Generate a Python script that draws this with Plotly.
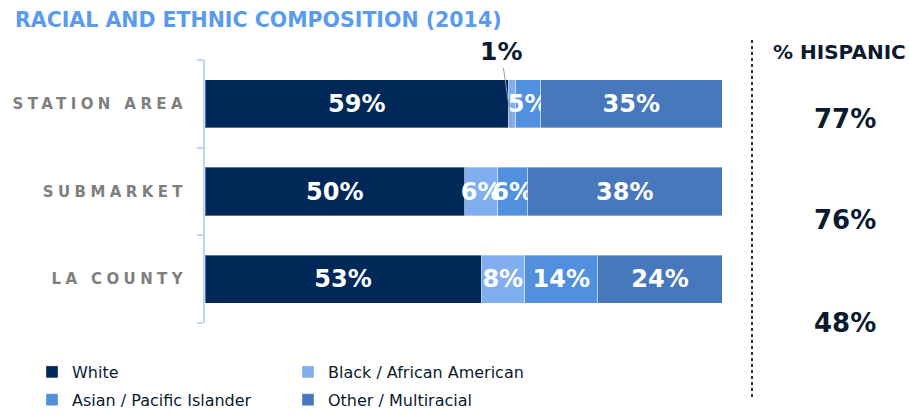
import plotly.graph_objects as go

# ---------------- data ----------------
categories = ["STATION AREA", "SUBMARKET", "LA COUNTY"]
white = [58.7, 50.2, 53.4]
black = [1.4, 6.4, 8.4]
asian = [4.8, 5.8, 14.2]
other = [35.1, 37.6, 24.0]
hispanic = ["77%", "76%", "48%"]
series_names = ["White", "Black / African American", "Asian / Pacific Islander", "Other / Multiracial"]
series_values = [white, black, asian, other]
colors = ["#00295A", "#80AEEF", "#5090DE", "#4678BB"]

W, H = 909, 417
L, R, T, B = 205, 722, 60, 323


def px_x(x):
    return (x - L) / (R - L)


def px_y(y):
    return (B - y) / (B - T)


FONT = "DejaVu Sans"
NAVY = "#0B1A2E"

fig = go.Figure()
legend_of = ["legend", "legend2", "legend", "legend2"]
for i, (name, vals, col, lg) in enumerate(zip(series_names, series_values, colors, legend_of)):
    texts = [f"{v:.0f}%" if v >= 3 else "" for v in vals]
    fig.add_trace(go.Bar(
        y=categories, x=vals, name=name, orientation="h",
        marker=dict(color=col, line=dict(color="rgba(255,255,255,0.35)", width=1)),
        width=0.55,
        text=texts, textposition="inside", insidetextanchor="middle", textangle=0,
        constraintext="none",
        textfont=dict(family=FONT, size=24, color="white", weight="bold"),
        cliponaxis=False, hoverinfo="skip", legend=lg, legendgroup=f"g{i}",
    ))

# small-value label with leader line (Station Area, Black ~1%)
fig.add_annotation(
    x=white[0] + black[0] / 2, y=0.275, xref="x", yref="y",
    text=f"<b>{black[0]:.0f}%</b>", showarrow=True, arrowhead=0, arrowwidth=1,
    arrowcolor="#9A9A9A", ax=-11, ay=-76,
    font=dict(family=FONT, size=25, color=NAVY),
)

tick_text = [f'<span style="letter-spacing:4.4px">{c}</span>' for c in categories]

leg_common = dict(orientation="v", xref="container", yref="container",
                  xanchor="left", yanchor="top", traceorder="grouped",
                  tracegroupgap=4,
                  font=dict(family=FONT, size=16, color=NAVY),
                  bgcolor="rgba(0,0,0,0)", itemclick=False, itemdoubleclick=False)

fig.update_layout(
    width=W, height=H,
    margin=dict(l=L, r=W - R, t=T, b=H - B, autoexpand=False),
    paper_bgcolor="white", plot_bgcolor="white",
    barmode="stack", bargap=0.45,
    font=dict(family=FONT, color=NAVY),
    title=dict(text="<b>RACIAL AND ETHNIC COMPOSITION (2014)</b>",
               x=15 / W, xanchor="left", xref="container",
               y=1 - 20 / H, yanchor="middle", yref="container",
               font=dict(family=FONT, size=20.5, color="#5A9BEF")),
    xaxis=dict(range=[0, 100], visible=False, fixedrange=True, automargin=False),
    yaxis=dict(categoryorder="array", categoryarray=categories, autorange="reversed",
               tickmode="array", tickvals=categories, ticktext=tick_text,
               showline=True, linecolor="#BBD6F7", linewidth=2,
               ticks="outside", tickson="boundaries", ticklen=6, tickcolor="#BBD6F7", tickwidth=2,
               ticklabelstandoff=13, automargin=False, fixedrange=True,
               tickfont=dict(family=FONT, size=15, color="#7F7F7F", weight="bold"),
               showgrid=False, zeroline=False),
    legend=dict(x=32 / W, y=1 - 355 / H, **leg_common),
    legend2=dict(x=288 / W, y=1 - 355 / H, **leg_common),
    showlegend=True,
)

# right panel: % Hispanic
fig.add_shape(type="line", xref="paper", yref="paper",
              x0=px_x(752), x1=px_x(752), y0=px_y(40), y1=px_y(400),
              line=dict(color="#333333", width=2, dash="dot"))
fig.add_annotation(x=px_x(771), y=px_y(52), xref="paper", yref="paper",
                   xanchor="left", yanchor="middle", showarrow=False,
                   text="<b>% HISPANIC</b>", font=dict(family=FONT, size=20, color=NAVY))
for val, ypix in zip(hispanic, [119, 220, 323]):
    fig.add_annotation(x=px_x(845), y=px_y(ypix), xref="paper", yref="paper",
                       xanchor="center", yanchor="middle", showarrow=False,
                       text=f"<b>{val}</b>", font=dict(family=FONT, size=26, color=NAVY))

fig.write_html("out.html", config={"displayModeBar": False},
               post_script="document.body.style.margin='0';")
